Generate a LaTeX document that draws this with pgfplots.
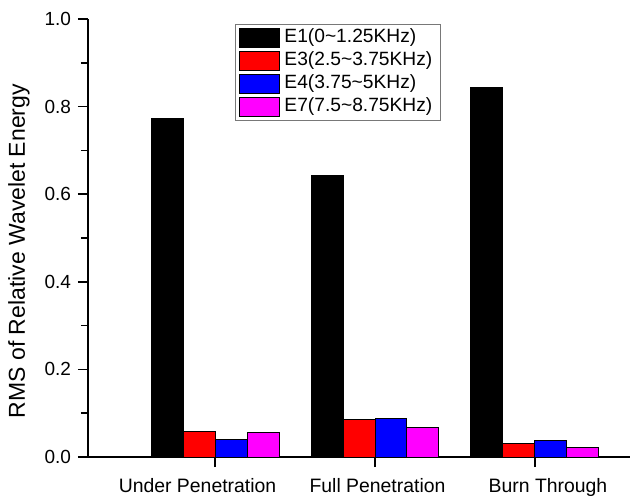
\documentclass[border=0pt]{standalone}
\usepackage{fontspec}
\setmainfont{Liberation Sans}
\usepackage{pgfplots}
\pgfplotsset{compat=1.18}
\definecolor{legframe}{RGB}{120,120,120}
\definecolor{mag}{RGB}{255,0,255}
\definecolor{rd}{RGB}{255,0,0}
\definecolor{bl}{RGB}{0,0,255}

\begin{document}
\begin{tikzpicture}
\begin{axis}[
  scale only axis, width=271pt, height=219pt,
  ybar=0pt, bar width=0.2,
  xmin=-0.794, xmax=2.594, ymin=0, ymax=1,
  axis x line*=bottom, axis y line*=left,
  axis line style={line width=0.75pt, -},
  tick align=outside,
  major tick length=5pt, minor tick length=3.5pt,
  xtick style={draw=black, line width=0.75pt},
  ytick style={draw=black, line width=0.75pt},
  minor tick style={draw=black, line width=0.75pt},
  xtick={0,1,2},
  xticklabels={{\makebox[0pt]{\hspace*{-17.5pt}Under Penetration}},
               {\makebox[0pt]{\hspace*{2.5pt}Full Penetration}},
               {\makebox[0pt]{\hspace*{13pt}Burn Through}}},
  x tick label style={font=\fontsize{9.7}{11}\selectfont, yshift=-2pt},
  ytick={0,0.2,0.4,0.6,0.8,1.0},
  minor y tick num=1,
  y tick label style={font=\fontsize{9.5}{11}\selectfont,
    /pgf/number format/fixed, /pgf/number format/fixed zerofill,
    /pgf/number format/precision=1},
  /pgf/number format/assume math mode=true,
  ylabel={RMS of Relative Wavelet Energy},
  ylabel style={font=\fontsize{11.5}{13}\selectfont,
    at={(axis description cs:0,0.47)}, anchor=center, yshift=34.5pt},
  legend style={at={(rel axis cs:0.271,0.989)}, anchor=north west,
    draw=legframe, line width=0.6pt, inner xsep=2pt, inner ysep=1pt,
    font=\fontsize{9.6}{11}\selectfont,
    nodes={inner ysep=1pt, inner xsep=2pt, text height=7pt, text depth=2.5pt}},
  legend cell align=left,
  legend image code/.code={\draw[#1, draw=black, line width=0.5pt] (0pt,-4.75pt) rectangle (20pt,4.75pt);},
]
\addplot[fill=black, draw=black, line width=0.5pt] coordinates {(0,0.773) (1,0.642) (2,0.844)};
\addplot[fill=rd, draw=black, line width=0.5pt] coordinates {(0,0.059) (1,0.085) (2,0.030)};
\addplot[fill=bl, draw=black, line width=0.5pt] coordinates {(0,0.041) (1,0.087) (2,0.037)};
\addplot[fill=mag, draw=black, line width=0.5pt] coordinates {(0,0.056) (1,0.067) (2,0.021)};
\legend{E1(0\textasciitilde1.25KHz), E3(2.5\textasciitilde3.75KHz), E4(3.75\textasciitilde5KHz), E7(7.5\textasciitilde8.75KHz)}
\coordinate (ll) at (rel axis cs:0,0);
\coordinate (ur) at (rel axis cs:1,1);
\end{axis}
\pgfresetboundingbox
\path ([shift={(-44pt,-20pt)}]ll) rectangle ([shift={(0pt,9.5pt)}]ur);
\end{tikzpicture}
\end{document}
